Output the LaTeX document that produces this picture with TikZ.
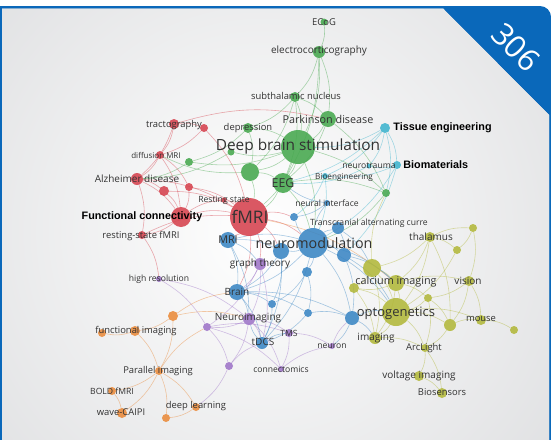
\documentclass[tikz,border=0pt]{standalone}
\usepackage{fontspec}
\setmainfont{Open Sans}
\newfontfamily\arialfont{Liberation Sans}
\usetikzlibrary{positioning}
\definecolor{cgreen}{RGB}{70,168,78}
\definecolor{ccyan}{RGB}{62,180,206}
\definecolor{cred}{RGB}{214,66,78}
\definecolor{cblue}{RGB}{58,134,196}
\definecolor{cpurple}{RGB}{158,116,200}
\definecolor{corange}{RGB}{234,138,58}
\definecolor{colive}{RGB}{178,184,58}
\definecolor{panelblue}{RGB}{10,104,186}
\definecolor{panelgray}{RGB}{218,219,221}
\definecolor{labgray}{RGB}{50,50,50}
\pgfdeclarelayer{back}
\pgfdeclarelayer{links}
\pgfsetlayers{back,links,main}

\begin{document}
\begin{tikzpicture}[x=1pt, y=-1pt,
        dot/.style={circle, inner sep=0pt, fill opacity=0.88},
        link/.style={line width=0.6pt, draw opacity=0.45},
        lab/.style={inner sep=0pt, text=labgray, font=\fontsize{9.4}{10}\selectfont},
        labs/.style={lab, font=\fontsize{8.6}{9}\selectfont},
        labm/.style={lab, font=\fontsize{10}{11}\selectfont},
        labl/.style={lab, font=\fontsize{10.8}{12}\selectfont},
        labxl/.style={lab, font=\fontsize{13}{14}\selectfont},
        labxxl/.style={lab, font=\fontsize{14.3}{16}\selectfont},
        labbold/.style={inner sep=0pt, text=black, font=\arialfont\bfseries\fontsize{10.8}{12}\selectfont},
    ]
    \useasboundingbox (0,0) rectangle (551,439);

    % panel with its blue frame and corner
    \begin{pgfonlayer}{back}
        \fill[panelblue, rounded corners=11pt] (0,6) rectangle (551,470);
        \fill[panelblue] (0,6) rectangle (20,30);
        \fill[panelgray] (2,8.5) -- (443,8.5) -- (549,115) -- (549,470) -- (2,470) -- cycle;
        \begin{scope}
            \clip (2,8.5) -- (443,8.5) -- (549,115) -- (549,470) -- (2,470) -- cycle;
            \shade[inner color=white, outer color=panelgray] (262,232) circle[radius=440];
        \end{scope}
    \end{pgfonlayer}
    \node[rotate=-45, text=white, font=\fontsize{31}{31}\selectfont] (count) at (516,47) {306};

    % items
    \foreach \n/\x/\y/\r in {ecog/324/22/3.5, ecorti/319/52/6, stn/295/97/5, pd/328/119/8,
        depr/248/128/5, dbs/298/147/17, g1/231/152/3.5, g2/189/162/4, g3/250/172/9,
        eeg/283/183/10, g4/386/193/4}
        \node[dot, fill=cgreen, minimum size=\r*2pt] (\n) at (\x,\y) {};
    \foreach \n/\x/\y/\r in {tissue/385/128/5, biomat/397/165/4, neurotr/369/166/2.5, bioeng/325/176/3}
        \node[dot, fill=ccyan, minimum size=\r*2pt] (\n) at (\x,\y) {};
    \foreach \n/\x/\y/\r in {tracto/174/124/5, r1/204/128/4, dmri/160/155/4, alz/137/179/6,
        r2/164/191/5, r3/189/187/4, rest/224/200/2.5, fc/181/217/10, rsfmri/142/235/4, fmri/249/217/19}
        \node[dot, fill=cred, minimum size=\r*2pt] (\n) at (\x,\y) {};
    \foreach \n/\x/\y/\r in {mri/228/240/8, nmod/313/243/15, nif/327/203/3, b1/294/217/4,
        tacs/338/228/6, b2/281/251/8, b3/344/255/7, b4/307/272/5, brain/237/292/8,
        b5/272/304/4, b6/308/313/4, b7/352/318/7, tdcs/262/343/6}
        \node[dot, fill=cblue, minimum size=\r*2pt] (\n) at (\x,\y) {};
    \foreach \n/\x/\y/\r in {graph/260/264/6, hires/159/279/3, nimg/249/319/6, p1/207/327/4,
        tms/289/333/4, neuron/332/346/3, p2/229/366/4, conn/281/369/3}
        \node[dot, fill=cpurple, minimum size=\r*2pt] (\n) at (\x,\y) {};
    \foreach \n/\x/\y/\r in {o1/173/316/5, fimg/135/331/5, o2/102/333/4, pimg/159/371/4,
        bold/112/391/4, wave/122/413/5, dl/196/407/4, o3/166/418/4}
        \node[dot, fill=corange, minimum size=\r*2pt] (\n) at (\x,\y) {};
    \foreach \n/\x/\y/\r in {thal/430/237/5, y1/473/228/4, y2/457/250/4, y3/372/268/9,
        calc/396/283/8, y4/354/288/5, vision/469/281/5, y5/428/298/4, opto/396/312/14,
        y6/450/325/6, mouse/481/320/5, y7/514/330/4, img/375/338/6, arc/425/348/4,
        vimg/419/376/5, bios/442/393/5}
        \node[dot, fill=colive, minimum size=\r*2pt] (\n) at (\x,\y) {};

    % links
    \begin{pgfonlayer}{links}
        \foreach \a/\b/\c in {ecog/ecorti/cgreen, ecorti/stn/cgreen, ecorti/pd/cgreen, ecorti/dbs/cgreen,
            ecorti/eeg/cgreen, stn/pd/cgreen, stn/dbs/cgreen, stn/depr/cgreen, stn/g3/cgreen,
            stn/eeg/cgreen, pd/dbs/cgreen, pd/eeg/cgreen, pd/g4/cgreen, depr/dbs/cgreen,
            depr/g3/cgreen, depr/g2/cgreen, dbs/g1/cgreen, dbs/g3/cgreen, dbs/eeg/cgreen,
            dbs/fmri/cgreen, dbs/g2/cgreen, dbs/nmod/cgreen, dbs/g4/cgreen, g2/alz/cgreen,
            g3/fmri/cgreen, g3/eeg/cgreen, g3/dmri/cgreen, eeg/fmri/cgreen, eeg/nmod/cgreen,
            eeg/g4/cgreen, g4/nmod/cgreen, g1/alz/cgreen,
            tissue/biomat/ccyan, tissue/neurotr/ccyan, biomat/neurotr/ccyan, tissue/bioeng/ccyan,
            biomat/bioeng/ccyan, tissue/dbs/ccyan, tissue/eeg/ccyan, biomat/nmod/ccyan,
            bioeng/nmod/ccyan, bioeng/b1/ccyan, neurotr/eeg/ccyan, biomat/b3/ccyan, tissue/g4/ccyan,
            tracto/r1/cred, tracto/dmri/cred, tracto/alz/cred, tracto/pd/cred, r1/fmri/cred,
            r1/dmri/cred, dmri/alz/cred, dmri/r3/cred, dmri/fc/cred, alz/r2/cred, alz/fc/cred,
            alz/rsfmri/cred, alz/fmri/cred, r2/fc/cred, r2/fmri/cred, r3/fc/cred, r3/fmri/cred,
            fc/fmri/cred, fc/rsfmri/cred, fc/rest/cred, rest/fmri/cred, rsfmri/fmri/cred,
            rsfmri/hires/cred, fmri/mri/cred, fmri/nmod/cred, fmri/brain/cred, fmri/graph/cred,
            fmri/b2/cred, fmri/calc/corange, fmri/b1/cred,
            mri/nmod/cblue, mri/brain/cblue, mri/graph/cblue, mri/b2/cblue, mri/nimg/cblue,
            nmod/b2/cblue, nmod/b3/cblue, nmod/b4/cblue, nmod/tacs/cblue, nmod/nif/cblue,
            nmod/b1/cblue, nmod/opto/cblue, nmod/calc/cblue, nmod/brain/cblue, nmod/tdcs/cblue,
            nmod/b7/cblue, nif/b1/cblue, nif/eeg/cblue, tacs/b3/cblue, tacs/y3/cblue, b3/b7/cblue,
            b3/opto/cblue, b3/calc/cblue, b4/b6/cblue, b4/b5/cblue, brain/b5/cblue,
            brain/nimg/cblue, brain/tdcs/cblue, brain/b7/cblue, brain/b6/cblue, b5/tdcs/cblue,
            b6/b7/cblue, b6/tdcs/cblue, b7/opto/cblue, b7/img/cblue, b7/neuron/cblue,
            tdcs/tms/cblue, tdcs/nimg/cblue, b2/brain/cblue, b2/b5/cblue, b2/tdcs/cblue,
            graph/nimg/cpurple, graph/brain/cpurple, graph/p1/cpurple, hires/p1/cpurple,
            hires/nimg/cpurple, nimg/p1/cpurple, nimg/tms/cpurple, nimg/p2/cpurple,
            nimg/conn/cpurple, nimg/tdcs/cpurple, p1/tms/cpurple, p1/p2/cpurple, p1/conn/cpurple,
            p2/dl/cpurple, p2/tdcs/cpurple, tms/neuron/cpurple, tms/conn/cpurple,
            neuron/b7/cpurple, conn/neuron/cpurple, graph/tdcs/cpurple,
            o1/fimg/corange, o1/pimg/corange, o1/brain/corange, fimg/o2/corange, fimg/pimg/corange,
            pimg/bold/corange, pimg/wave/corange, pimg/dl/corange, pimg/o3/corange,
            pimg/p1/corange, bold/wave/corange, dl/o3/corange, o1/nimg/corange,
            thal/y1/colive, thal/y2/colive, thal/calc/colive, thal/opto/colive, thal/y3/colive,
            thal/y6/colive, y1/y2/colive, y1/vision/colive, y2/opto/colive, y3/calc/colive,
            y3/opto/colive, y3/y4/colive, y3/img/colive, y3/g4/colive, calc/opto/colive,
            calc/y4/colive, calc/y5/colive, calc/vision/colive, calc/img/colive,
            vision/mouse/colive, vision/y5/colive, vision/y6/colive, y5/opto/colive,
            y5/arc/colive, y5/y6/colive, opto/y6/colive, opto/mouse/colive, opto/img/colive,
            opto/arc/colive, y6/mouse/colive, mouse/y7/colive, y6/arc/colive, img/arc/colive,
            arc/vimg/colive, arc/bios/colive, vimg/bios/colive, y4/img/colive, y4/opto/colive}
            \draw[link, draw=\c] (\a) to[bend left=14] (\b);
    \end{pgfonlayer}

    % labels
    \node[lab] (ecog-l) at (324,22) {ECoG};
    \node[labm] (ecorti-l) at (319,51) {electrocorticography};
    \node[lab] (stn-l) at (296,96) {subthalamic nucleus};
    \node[labl] (pd-l) at (328,119) {Parkinson disease};
    \node[lab] (depr-l) at (248,128) {depression};
    \node[lab, font=\fontsize{15.4}{17}\selectfont] (dbs-l) at (298,146) {Deep brain stimulation};
    \node[lab, font=\fontsize{12.3}{13}\selectfont] (eeg-l) at (283,183) {EEG};
    \node[labbold, right=3pt of tissue] (tissue-l) {Tissue engineering};
    \node[labbold, right=2pt of biomat] (biomat-l) {Biomaterials};
    \node[labs] (neurotr-l) at (369,166) {neurotrauma};
    \node[labs, font=\fontsize{8.2}{9}\selectfont] (bioeng-l) at (344,177) {Bioengineering};
    \node[lab] (tracto-l) at (174,125) {tractography};
    \node[labs, font=\fontsize{8}{9}\selectfont] (dmri-l) at (156,155) {diffusion MRI};
    \node[labm] (alz-l) at (137,179) {Alzheimer disease};
    \node[labs] (rest-l) at (224,200) {Resting state};
    \node[labbold] (fc-l) at (142,217) {Functional connectivity};
    \node[lab] (rsfmri-l) at (141,236) {resting-state fMRI};
    \node[lab, font=\fontsize{17.3}{18}\selectfont] (fmri-l) at (250,217) {fMRI};
    \node[labl] (mri-l) at (228,240) {MRI};
    \node[labxxl] (nmod-l) at (314,243) {neuromodulation};
    \node[labs] (nif-l) at (327,203) {neural interface};
    \node[labs] (tacs-l) at (369,223) {Transcranial alternating curre};
    \node[labm] (graph-l) at (260,264) {graph theory};
    \node[labs] (hires-l) at (159,279) {high resolution};
    \node[labm] (brain-l) at (237,292) {Brain};
    \node[labm] (nimg-l) at (248,318) {Neuroimaging};
    \node[labs] (tms-l) at (289,333) {TMS};
    \node[labm] (tdcs-l) at (263,342) {tDCS};
    \node[labs] (neuron-l) at (332,346) {neuron};
    \node[labs] (conn-l) at (281,369) {connectomics};
    \node[lab] (fimg-l) at (136,331) {functional imaging};
    \node[lab] (pimg-l) at (158,371) {Parallel imaging};
    \node[labs] (bold-l) at (112,391) {BOLD fMRI};
    \node[lab] (wave-l) at (121,412) {wave-CAIPI};
    \node[lab] (dl-l) at (196,406) {deep learning};
    \node[labm] (thal-l) at (431,237) {thalamus};
    \node[labl] (calc-l) at (396,282) {calcium imaging};
    \node[labm] (vision-l) at (468,281) {vision};
    \node[labxl] (opto-l) at (396,313) {optogenetics};
    \node[lab] (mouse-l) at (481,319) {mouse};
    \node[labm] (img-l) at (376,338) {imaging};
    \node[lab] (arc-l) at (424,348) {ArcLight};
    \node[labm] (vimg-l) at (419,376) {voltage imaging};
    \node[lab] (bios-l) at (442,392) {Biosensors};

\end{tikzpicture}
\end{document}
